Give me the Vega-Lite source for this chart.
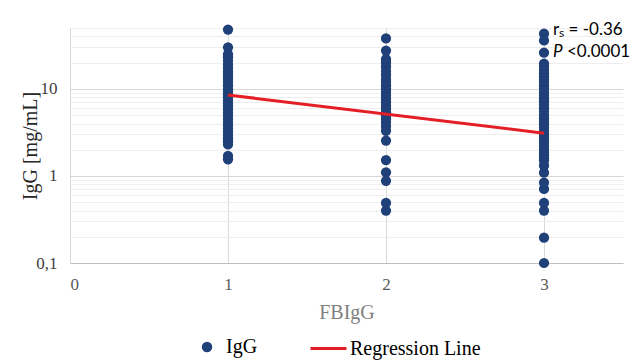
{
  "$schema": "https://vega.github.io/schema/vega-lite/v6.json",
  "width": 553,
  "height": 235,
  "autosize": {"type": "none"},
  "padding": {"left": 70, "top": 28, "right": 14, "bottom": 100},
  "background": "white",
  "config": {
    "view": {"stroke": null},
    "font": "Liberation Serif",
    "axis": {"labelFont": "Liberation Serif", "titleFont": "Liberation Serif", "titleFontWeight": "normal"},
    "legend": {"labelFont": "Liberation Serif", "labelFontSize": 20, "labelColor": "#000000", "title": null}
  },
  "datasets": {
    "points": [
      {"FBIgG": 1, "IgG": 48, "series": "IgG"}, {"FBIgG": 1, "IgG": 30, "series": "IgG"}, {"FBIgG": 1, "IgG": 25, "series": "IgG"},
      {"FBIgG": 1, "IgG": 23, "series": "IgG"}, {"FBIgG": 1, "IgG": 21, "series": "IgG"}, {"FBIgG": 1, "IgG": 19, "series": "IgG"},
      {"FBIgG": 1, "IgG": 17.5, "series": "IgG"}, {"FBIgG": 1, "IgG": 16, "series": "IgG"}, {"FBIgG": 1, "IgG": 15, "series": "IgG"},
      {"FBIgG": 1, "IgG": 14, "series": "IgG"}, {"FBIgG": 1, "IgG": 13, "series": "IgG"}, {"FBIgG": 1, "IgG": 12, "series": "IgG"},
      {"FBIgG": 1, "IgG": 11, "series": "IgG"}, {"FBIgG": 1, "IgG": 10, "series": "IgG"}, {"FBIgG": 1, "IgG": 9.3, "series": "IgG"},
      {"FBIgG": 1, "IgG": 8.7, "series": "IgG"}, {"FBIgG": 1, "IgG": 8, "series": "IgG"}, {"FBIgG": 1, "IgG": 7.4, "series": "IgG"},
      {"FBIgG": 1, "IgG": 6.8, "series": "IgG"}, {"FBIgG": 1, "IgG": 6.3, "series": "IgG"}, {"FBIgG": 1, "IgG": 5.8, "series": "IgG"},
      {"FBIgG": 1, "IgG": 5.3, "series": "IgG"}, {"FBIgG": 1, "IgG": 4.9, "series": "IgG"}, {"FBIgG": 1, "IgG": 4.5, "series": "IgG"},
      {"FBIgG": 1, "IgG": 4.1, "series": "IgG"}, {"FBIgG": 1, "IgG": 3.8, "series": "IgG"}, {"FBIgG": 1, "IgG": 3.5, "series": "IgG"},
      {"FBIgG": 1, "IgG": 3.2, "series": "IgG"}, {"FBIgG": 1, "IgG": 2.9, "series": "IgG"}, {"FBIgG": 1, "IgG": 2.7, "series": "IgG"},
      {"FBIgG": 1, "IgG": 2.5, "series": "IgG"}, {"FBIgG": 1, "IgG": 2.3, "series": "IgG"}, {"FBIgG": 1, "IgG": 1.7, "series": "IgG"},
      {"FBIgG": 1, "IgG": 1.55, "series": "IgG"},
      {"FBIgG": 2, "IgG": 38, "series": "IgG"}, {"FBIgG": 2, "IgG": 27.5, "series": "IgG"}, {"FBIgG": 2, "IgG": 22, "series": "IgG"},
      {"FBIgG": 2, "IgG": 20, "series": "IgG"}, {"FBIgG": 2, "IgG": 18, "series": "IgG"}, {"FBIgG": 2, "IgG": 16, "series": "IgG"},
      {"FBIgG": 2, "IgG": 14.5, "series": "IgG"}, {"FBIgG": 2, "IgG": 13, "series": "IgG"}, {"FBIgG": 2, "IgG": 12, "series": "IgG"},
      {"FBIgG": 2, "IgG": 11, "series": "IgG"}, {"FBIgG": 2, "IgG": 10, "series": "IgG"}, {"FBIgG": 2, "IgG": 9.2, "series": "IgG"},
      {"FBIgG": 2, "IgG": 8.4, "series": "IgG"}, {"FBIgG": 2, "IgG": 7.7, "series": "IgG"}, {"FBIgG": 2, "IgG": 7, "series": "IgG"},
      {"FBIgG": 2, "IgG": 6.4, "series": "IgG"}, {"FBIgG": 2, "IgG": 5.9, "series": "IgG"}, {"FBIgG": 2, "IgG": 5.4, "series": "IgG"},
      {"FBIgG": 2, "IgG": 4.9, "series": "IgG"}, {"FBIgG": 2, "IgG": 4.5, "series": "IgG"}, {"FBIgG": 2, "IgG": 4.1, "series": "IgG"},
      {"FBIgG": 2, "IgG": 3.7, "series": "IgG"}, {"FBIgG": 2, "IgG": 3.3, "series": "IgG"}, {"FBIgG": 2, "IgG": 2.55, "series": "IgG"},
      {"FBIgG": 2, "IgG": 1.52, "series": "IgG"}, {"FBIgG": 2, "IgG": 1.1, "series": "IgG"}, {"FBIgG": 2, "IgG": 0.88, "series": "IgG"},
      {"FBIgG": 2, "IgG": 0.49, "series": "IgG"}, {"FBIgG": 2, "IgG": 0.4, "series": "IgG"},
      {"FBIgG": 3, "IgG": 43, "series": "IgG"}, {"FBIgG": 3, "IgG": 36, "series": "IgG"}, {"FBIgG": 3, "IgG": 26, "series": "IgG"},
      {"FBIgG": 3, "IgG": 19.5, "series": "IgG"}, {"FBIgG": 3, "IgG": 18, "series": "IgG"}, {"FBIgG": 3, "IgG": 16.5, "series": "IgG"},
      {"FBIgG": 3, "IgG": 15, "series": "IgG"}, {"FBIgG": 3, "IgG": 14, "series": "IgG"}, {"FBIgG": 3, "IgG": 13, "series": "IgG"},
      {"FBIgG": 3, "IgG": 12, "series": "IgG"}, {"FBIgG": 3, "IgG": 11, "series": "IgG"}, {"FBIgG": 3, "IgG": 10, "series": "IgG"},
      {"FBIgG": 3, "IgG": 9.2, "series": "IgG"}, {"FBIgG": 3, "IgG": 8.5, "series": "IgG"}, {"FBIgG": 3, "IgG": 7.8, "series": "IgG"},
      {"FBIgG": 3, "IgG": 7.2, "series": "IgG"}, {"FBIgG": 3, "IgG": 6.6, "series": "IgG"}, {"FBIgG": 3, "IgG": 6, "series": "IgG"},
      {"FBIgG": 3, "IgG": 5.5, "series": "IgG"}, {"FBIgG": 3, "IgG": 5, "series": "IgG"}, {"FBIgG": 3, "IgG": 4.6, "series": "IgG"},
      {"FBIgG": 3, "IgG": 4.2, "series": "IgG"}, {"FBIgG": 3, "IgG": 3.9, "series": "IgG"}, {"FBIgG": 3, "IgG": 3.6, "series": "IgG"},
      {"FBIgG": 3, "IgG": 3.3, "series": "IgG"}, {"FBIgG": 3, "IgG": 3, "series": "IgG"}, {"FBIgG": 3, "IgG": 2.8, "series": "IgG"},
      {"FBIgG": 3, "IgG": 2.6, "series": "IgG"}, {"FBIgG": 3, "IgG": 2.4, "series": "IgG"}, {"FBIgG": 3, "IgG": 2.2, "series": "IgG"},
      {"FBIgG": 3, "IgG": 2, "series": "IgG"}, {"FBIgG": 3, "IgG": 1.85, "series": "IgG"}, {"FBIgG": 3, "IgG": 1.7, "series": "IgG"},
      {"FBIgG": 3, "IgG": 1.6, "series": "IgG"}, {"FBIgG": 3, "IgG": 1.5, "series": "IgG"}, {"FBIgG": 3, "IgG": 1.31, "series": "IgG"},
      {"FBIgG": 3, "IgG": 1.09, "series": "IgG"}, {"FBIgG": 3, "IgG": 0.84, "series": "IgG"}, {"FBIgG": 3, "IgG": 0.71, "series": "IgG"},
      {"FBIgG": 3, "IgG": 0.49, "series": "IgG"}, {"FBIgG": 3, "IgG": 0.4, "series": "IgG"}, {"FBIgG": 3, "IgG": 0.195, "series": "IgG"},
      {"FBIgG": 3, "IgG": 0.1, "series": "IgG"}
    ],
    "line": [
      {"FBIgG": 1, "IgG": 8.5, "series": "Regression Line"},
      {"FBIgG": 3, "IgG": 3.1, "series": "Regression Line"}
    ],
    "notes": [
      {"FBIgG": 3.057, "IgG": 48, "part": "r", "label": "rₛ = -0.36"},
      {"FBIgG": 3.057, "IgG": 26.5, "part": "p", "label": "P"},
      {"FBIgG": 3.057, "IgG": 26.5, "part": "v", "label": "<0.0001"}
    ]
  },
  "layer": [
    {
      "data": {"name": "points"},
      "mark": {"type": "point", "filled": true, "size": 105, "opacity": 1},
      "encoding": {
        "x": {
          "field": "FBIgG", "type": "quantitative",
          "scale": {"domain": [0, 3.5], "nice": false, "zero": false},
          "axis": {
            "values": [0, 1, 2, 3], "format": "d", "grid": true, "gridColor": "#d9d9d9",
            "domain": true, "domainColor": "#bfbfbf", "domainWidth": 1.2, "ticks": false,
            "labelFontSize": 17, "labelColor": "#595959", "labelPadding": 13,
            "title": "FBIgG", "titleColor": "#7f7f7f", "titleFontSize": 20, "titlePadding": 10
          }
        },
        "y": {
          "field": "IgG", "type": "quantitative",
          "scale": {"type": "log", "domain": [0.1, 50], "nice": false},
          "axis": {
            "values": [0.1, 0.2, 0.3, 0.4, 0.5, 0.6, 0.7, 0.8, 0.9, 1, 2, 3, 4, 5, 6, 7, 8, 9, 10, 20, 30, 40, 50],
            "labelExpr": "datum.value == 0.1 ? '0,1' : (datum.value == 1 ? '1' : (datum.value == 10 ? '10' : ''))",
            "grid": true,
            "gridColor": {"condition": {"test": "datum.value == 1 || datum.value == 10", "value": "#d6d6d6"}, "value": "#eeeeee"},
            "domain": false, "ticks": false,
            "labelFontSize": 17, "labelColor": "#404040", "labelPadding": 13,
            "title": "IgG [mg/mL]", "titleColor": "#262626", "titleFontSize": 20, "titlePadding": -5
          }
        },
        "fill": {
          "field": "series", "type": "nominal",
          "scale": {"domain": ["IgG"], "range": ["#1f4078"]},
          "legend": {"orient": "none", "legendX": 127, "legendY": 309, "symbolType": "circle", "symbolSize": 110, "labelOffset": 9, "direction": "horizontal"}
        }
      }
    },
    {
      "data": {"name": "line"},
      "mark": {"type": "line", "strokeWidth": 3},
      "encoding": {
        "x": {"field": "FBIgG", "type": "quantitative"},
        "y": {"field": "IgG", "type": "quantitative"},
        "stroke": {
          "field": "series", "type": "nominal",
          "scale": {"domain": ["Regression Line"], "range": ["#e41e26"]},
          "legend": {"orient": "none", "legendX": 239, "legendY": 301, "symbolType": "stroke", "symbolSize": 1296, "symbolStrokeWidth": 3, "labelOffset": 2, "direction": "horizontal"}
        }
      }
    },
    {
      "data": {"name": "notes"},
      "transform": [{"filter": "datum.part == 'r'"}],
      "mark": {"type": "text", "align": "left", "baseline": "middle", "font": "Lato", "fontSize": 17, "color": "#000000"},
      "encoding": {
        "x": {"field": "FBIgG", "type": "quantitative"},
        "y": {"field": "IgG", "type": "quantitative"},
        "text": {"field": "label"}
      }
    },
    {
      "data": {"name": "notes"},
      "transform": [{"filter": "datum.part == 'p'"}],
      "mark": {"type": "text", "align": "left", "baseline": "middle", "font": "Lato", "fontSize": 17, "fontStyle": "italic", "color": "#000000"},
      "encoding": {
        "x": {"field": "FBIgG", "type": "quantitative"},
        "y": {"field": "IgG", "type": "quantitative"},
        "text": {"field": "label"}
      }
    },
    {
      "data": {"name": "notes"},
      "transform": [{"filter": "datum.part == 'v'"}],
      "mark": {"type": "text", "align": "left", "baseline": "middle", "font": "Lato", "fontSize": 17, "dx": 14, "color": "#000000"},
      "encoding": {
        "x": {"field": "FBIgG", "type": "quantitative"},
        "y": {"field": "IgG", "type": "quantitative"},
        "text": {"field": "label"}
      }
    }
  ]
}
